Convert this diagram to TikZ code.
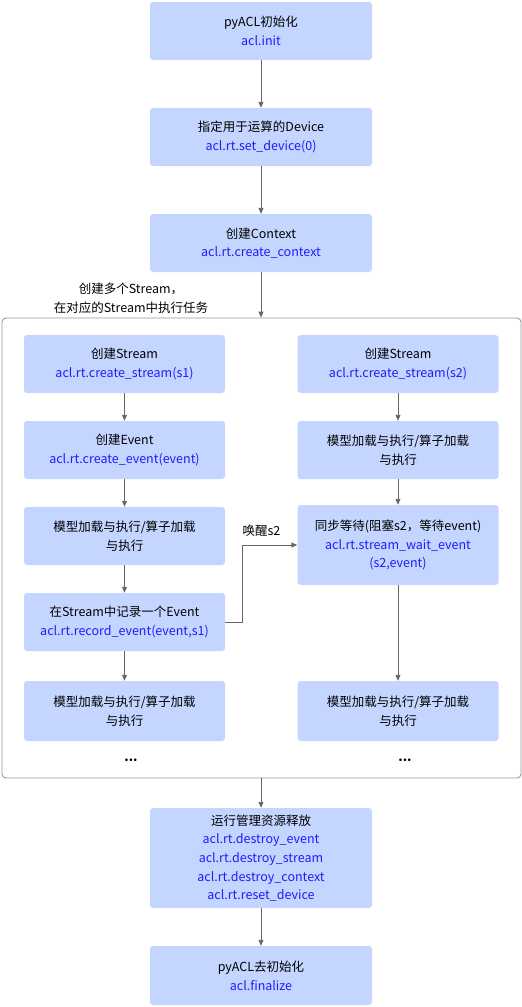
\documentclass[tikz,border=0pt]{standalone}
\usepackage{fontspec}
\setmainfont{Noto Sans CJK SC}
\usetikzlibrary{positioning, arrows.meta}
\definecolor{StepFill}{RGB}{196, 214, 255}
\definecolor{ApiBlue}{RGB}{28, 28, 255}
\definecolor{FlowGray}{RGB}{102, 102, 102}
\definecolor{FrameGray}{RGB}{150, 150, 150}
\tikzset{
  stepbox/.style={fill=StepFill, rounded corners=3pt, align=center, inner sep=0pt,
                  minimum width=222pt, minimum height=58pt,
                  font=\fontsize{12.5}{18.7}\selectfont},
  colbox/.style={stepbox, minimum width=201pt},
  flow/.style={-{Triangle[length=6pt, width=5pt]}, FlowGray, line width=0.9pt},
  plain/.style={align=center, inner sep=0pt, font=\fontsize{12.5}{18.7}\selectfont},
}
\newcommand{\apicall}[1]{\textcolor{ApiBlue}{#1}}
\begin{document}
\begin{tikzpicture}[x=1pt, y=-1pt]
  \useasboundingbox (0,0) rectangle (522,1007);
  % Setup chain
  \node[stepbox] (init) at (261, 31) {pyACL初始化\\\apicall{acl.init}};
  \node[stepbox] (device) at (261, 137) {指定用于运算的Device\\\apicall{acl.rt.set\_device(0)}};
  \node[stepbox] (context) at (261, 243) {创建Context\\\apicall{acl.rt.create\_context}};

  % Stream frame
  \node[draw=FrameGray, line width=0.9pt, rounded corners=4pt, inner sep=0pt,
        minimum width=519pt, minimum height=460pt] (frame) at (261.5, 548) {};
  \node[plain] (framelabel) at (131, 298) {创建多个Stream，\\在对应的Stream中执行任务};

  % Left stream
  \node[colbox] (l1) at (124.5, 364) {创建Stream\\\apicall{acl.rt.create\_stream(s1)}};
  \node[colbox] (l2) at (124.5, 450) {创建Event\\\apicall{acl.rt.create\_event(event)}};
  \node[colbox] (l3) at (124.5, 536) {模型加载与执行/算子加载\\与执行};
  \node[colbox] (l4) at (124.5, 622) {在Stream中记录一个Event\\\apicall{acl.rt.record\_event(event,s1)}};
  \node[colbox, minimum height=60pt] (l5) at (124.5, 711) {模型加载与执行/算子加载\\与执行};
  \node[plain] (ldots) at (131, 760) {\textbf{...}};

  % Right stream
  \node[colbox] (r1) at (398, 364) {创建Stream\\\apicall{acl.rt.create\_stream(s2)}};
  \node[colbox] (r2) at (398, 450) {模型加载与执行/算子加载\\与执行};
  \node[colbox, minimum height=80pt] (r3) at (398, 545)
    {同步等待(阻塞s2，等待event)\\\apicall{acl.rt.stream\_wait\_event}\\\apicall{(s2,event)}};
  \node[colbox, minimum height=60pt] (r4) at (398, 711) {模型加载与执行/算子加载\\与执行};
  \node[plain] (rdots) at (405, 760) {\textbf{...}};

  % Teardown
  \node[stepbox, minimum height=100pt] (release) at (261, 858)
    {运行管理资源释放\\\apicall{acl.rt.destroy\_event}\\\apicall{acl.rt.destroy\_stream}\\
     \apicall{acl.rt.destroy\_context}\\\apicall{acl.rt.reset\_device}};
  \node[stepbox, minimum height=59pt] (final) at (261, 975.5) {pyACL去初始化\\\apicall{acl.finalize}};

  % Connectors
  \draw[flow] (init) -- (device);
  \draw[flow] (device) -- (context);
  \draw[flow] (context) -- (frame.north -| context);
  \foreach \a/\b in {l1/l2, l2/l3, l3/l4, l4/l5, r1/r2, r2/r3, r3/r4}
    \draw[flow] (\a) -- (\b);
  \draw[flow] (l4.east) -- ++(17, 0) |- (r3.west);
  \node[plain] (wake) at (261.5, 531) {唤醒s2};
  \draw[flow] (frame.south -| release) -- (release);
  \draw[flow] (release) -- (final);
\end{tikzpicture}
\end{document}
